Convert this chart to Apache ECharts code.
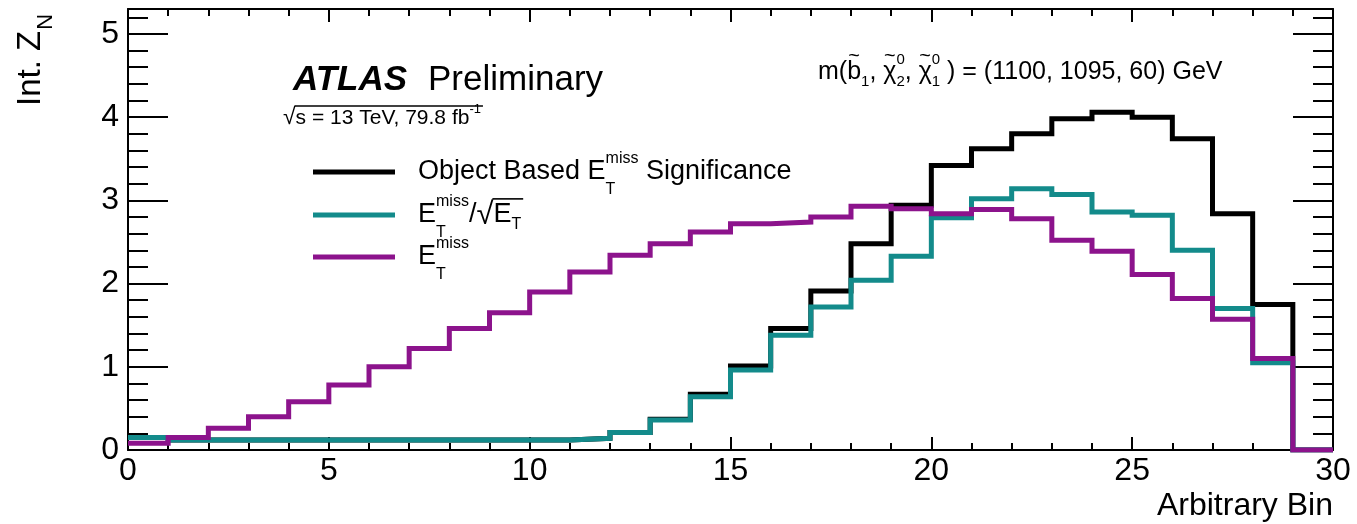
<!DOCTYPE html>
<html>
<head>
<meta charset="utf-8">
<title>Int. Z_N vs Arbitrary Bin</title>
<script src="https://cdn.jsdelivr.net/npm/echarts@6/dist/echarts.min.js"></script>
<style>
  html, body { margin: 0; padding: 0; background: #ffffff; }
  #chart { width: 1357px; height: 524px; }
</style>
</head>
<body>
<div id="chart"></div>
<script>
// ---- data: integrated significance per bin ----
const binLow = [0, 1, 2, 3, 4, 5, 6, 7, 8, 9, 10, 11, 12, 13, 14, 15, 16, 17, 18, 19, 20, 21, 22, 23, 24, 25, 26, 27, 28, 29];
const binUpperEdge = 30;

const objectBasedSig = [0.15, 0.12, 0.12, 0.12, 0.12, 0.12, 0.12, 0.12, 0.12, 0.12, 0.12, 0.14, 0.21, 0.37, 0.67, 1.01, 1.46, 1.91, 2.48, 2.94, 3.42, 3.62, 3.80, 3.98, 4.06, 4.00, 3.74, 2.84, 1.75, 0.00];
const metOverSqrtEt   = [0.15, 0.12, 0.12, 0.12, 0.12, 0.12, 0.12, 0.12, 0.12, 0.12, 0.12, 0.14, 0.21, 0.36, 0.64, 0.96, 1.38, 1.72, 2.04, 2.33, 2.79, 3.02, 3.14, 3.07, 2.86, 2.82, 2.40, 1.70, 1.05, 0.00];
const metOnly         = [0.08, 0.15, 0.26, 0.40, 0.58, 0.78, 1.00, 1.22, 1.46, 1.65, 1.90, 2.14, 2.34, 2.48, 2.62, 2.72, 2.74, 2.80, 2.93, 2.90, 2.84, 2.89, 2.78, 2.52, 2.39, 2.11, 1.82, 1.57, 1.10, 0.00];

const yTickLabels = ['0', '1', '2', '3', '4', '5'];
const xRange = [0, 30];
const yRange = [0, 5.3];

// ---- styling ----
const FAMILY = '"Liberation Sans", Arial, Helvetica, sans-serif';
const COL_OBJ = '#000000';
const COL_RATIO = '#138b8b';
const COL_MET = '#8c138c';

// histogram outline: one point per low edge plus the upper edge
function histPoints(vals) {
  const pts = binLow.map((x, i) => [x, vals[i]]);
  pts.push([binUpperEdge, vals[vals.length - 1]]);
  return pts;
}

// ---- text helpers (super/subscripts laid out piece by piece) ----
const mctx = document.createElement('canvas').getContext('2d');
function fontStr(p) {
  return (p.italic ? 'italic ' : '') + (p.bold ? 'bold ' : '') + p.size + 'px ' + FAMILY;
}
function measure(p) { mctx.font = fontStr(p); return mctx.measureText(p.t).width; }
function textEl(x, y, p, align) {
  return {
    type: 'text', x: x, y: y, silent: true, z: 100,
    style: {
      text: p.t, font: fontStr(p), fill: '#000',
      textAlign: align || 'left', textVerticalAlign: 'middle',
      align: align || 'left', verticalAlign: 'middle'
    }
  };
}
// pieces: {t,size,dy,bold,italic,accent,barStart} or {stack:[sup,sub]}
function run(x0, y0, pieces) {
  const els = [];
  let x = x0;
  let barX = null, barY = null;
  for (const p of pieces) {
    if (p.stack) {
      let w = 0;
      for (const q of p.stack) {
        els.push(textEl(x, y0 + q.dy, q));
        w = Math.max(w, measure(q));
      }
      x += w + (p.gap || 0);
      continue;
    }
    const w = measure(p);
    els.push(textEl(x, y0 + (p.dy || 0), p));
    if (p.accent) {
      els.push(textEl(x + w / 2, y0 - p.size * 0.62, { t: '~', size: Math.round(p.size * 0.8) }, 'center'));
    }
    x += w;
    if (p.barStart) { barX = x; barY = y0 - p.size * 0.52; }
  }
  if (barX !== null) {
    els.push({ type: 'line', silent: true, z: 100,
      shape: { x1: barX - 1, y1: barY, x2: x + 2, y2: barY },
      style: { stroke: '#000', lineWidth: 1.6 } });
  }
  return els;
}

const LEG = 27, SUP = 16;
const legendRows = [
  { y: 172, color: COL_OBJ, pieces: [
    { t: 'Object Based E', size: LEG },
    { stack: [{ t: 'miss', size: SUP, dy: -13 }, { t: 'T', size: SUP, dy: 18 }] },
    { t: ' Significance', size: LEG } ] },
  { y: 215, color: COL_RATIO, pieces: [
    { t: 'E', size: LEG },
    { stack: [{ t: 'miss', size: SUP, dy: -13 }, { t: 'T', size: SUP, dy: 18 }] },
    { t: '/', size: LEG },
    { t: '\u221A', size: LEG + 4, barStart: true },
    { t: 'E', size: LEG },
    { t: 'T', size: SUP, dy: 10 } ] },
  { y: 257, color: COL_MET, pieces: [
    { t: 'E', size: LEG },
    { stack: [{ t: 'miss', size: SUP, dy: -13 }, { t: 'T', size: SUP, dy: 18 }] } ] }
];

const graphics = [];
legendRows.forEach(r => {
  graphics.push({ type: 'line', silent: true, z: 100,
    shape: { x1: 313, y1: r.y, x2: 395, y2: r.y },
    style: { stroke: r.color, lineWidth: 5 } });
  graphics.push(...run(418, r.y, r.pieces));
});

// ATLAS label
graphics.push(...run(293, 80, [{ t: 'ATLAS', size: 35, bold: true, italic: true }]));
graphics.push(...run(428, 80, [{ t: 'Preliminary', size: 35 }]));
// energy / luminosity
graphics.push(...run(283, 118, [
  { t: '\u221A', size: 23, barStart: true },
  { t: 's = 13 TeV, 79.8 fb', size: 21 },
  { t: '-1', size: 13, dy: -9 }
]));
// mass point
const MS = 25, MSS = 15;
graphics.push(...run(818, 72, [
  { t: 'm(', size: MS },
  { t: 'b', size: MS, accent: true },
  { t: '1', size: MSS, dy: 10 },
  { t: ', ', size: MS },
  { t: '\u03C7', size: MS, accent: true },
  { stack: [{ t: '0', size: MSS, dy: -12 }, { t: '2', size: MSS, dy: 10 }] },
  { t: ', ', size: MS },
  { t: '\u03C7', size: MS, accent: true },
  { stack: [{ t: '0', size: MSS, dy: -12 }, { t: '1', size: MSS, dy: 10 }] },
  { t: ' ) = (1100, 1095, 60) GeV', size: MS }
]));
// y axis title, reading bottom to top
(function () {
  const main = { t: 'Int. Z', size: 33 };
  const w = measure(main);
  graphics.push({
    type: 'group', x: 31, y: 106, rotation: Math.PI / 2, silent: true,
    children: [textEl(0, 0, main), textEl(w + 1, 15, { t: 'N', size: 22 })]
  });
})();

const axisLineStyle = { color: '#000', width: 2 };
const tickStyle = { color: '#000', width: 2 };

function yAxisDef(position, interval, len, labels, line) {
  return {
    type: 'value', position: position, min: yRange[0], max: yRange[1], interval: interval,
    axisLine: { show: line, onZero: false, lineStyle: axisLineStyle },
    axisTick: { show: true, inside: true, length: len, lineStyle: tickStyle },
    axisLabel: {
      show: labels, margin: 9, fontSize: 32, fontFamily: FAMILY, color: '#000',
      formatter: v => (yTickLabels.indexOf(String(v)) >= 0 ? String(v) : '')
    },
    splitLine: { show: false }
  };
}
function xAxisDef(position, labels) {
  return {
    type: 'value', position: position, min: xRange[0], max: xRange[1], interval: 5,
    axisLine: { show: true, onZero: false, lineStyle: axisLineStyle },
    axisTick: { show: true, inside: true, length: 13, lineStyle: tickStyle },
    minorTick: { show: true, splitNumber: 5, length: 7, lineStyle: tickStyle },
    axisLabel: { show: labels, margin: 5, fontSize: 32, fontFamily: FAMILY, color: '#000' },
    splitLine: { show: false },
    name: labels ? 'Arbitrary Bin' : '',
    nameLocation: 'end', nameGap: 0,
    nameTextStyle: { fontSize: 32, fontFamily: FAMILY, color: '#000', align: 'right', verticalAlign: 'top', padding: [40, 0, 0, 0] }
  };
}

function histSeries(name, vals, color) {
  return {
    name: name, type: 'line', step: 'end', data: histPoints(vals),
    xAxisIndex: 0, yAxisIndex: 0, symbol: 'none', showSymbol: false,
    lineStyle: { color: color, width: 5, join: 'miter', cap: 'butt' },
    emphasis: { disabled: true }
  };
}

const chart = echarts.init(document.getElementById('chart'), null, { renderer: 'canvas' });
chart.setOption({
  animation: false,
  backgroundColor: '#ffffff',
  textStyle: { fontFamily: FAMILY },
  grid: { left: 128, right: 24, top: 9, bottom: 74, containLabel: false },
  xAxis: [xAxisDef('bottom', true), xAxisDef('top', false)],
  yAxis: [
    yAxisDef('left', 1, 40, true, true),
    yAxisDef('left', 0.2, 20, false, false),
    yAxisDef('right', 1, 40, false, true),
    yAxisDef('right', 0.2, 20, false, false)
  ],
  series: [
    histSeries('Object Based Significance', objectBasedSig, COL_OBJ),
    histSeries('MET / sqrt(ET)', metOverSqrtEt, COL_RATIO),
    histSeries('MET', metOnly, COL_MET)
  ],
  graphic: graphics
});
</script>
</body>
</html>
